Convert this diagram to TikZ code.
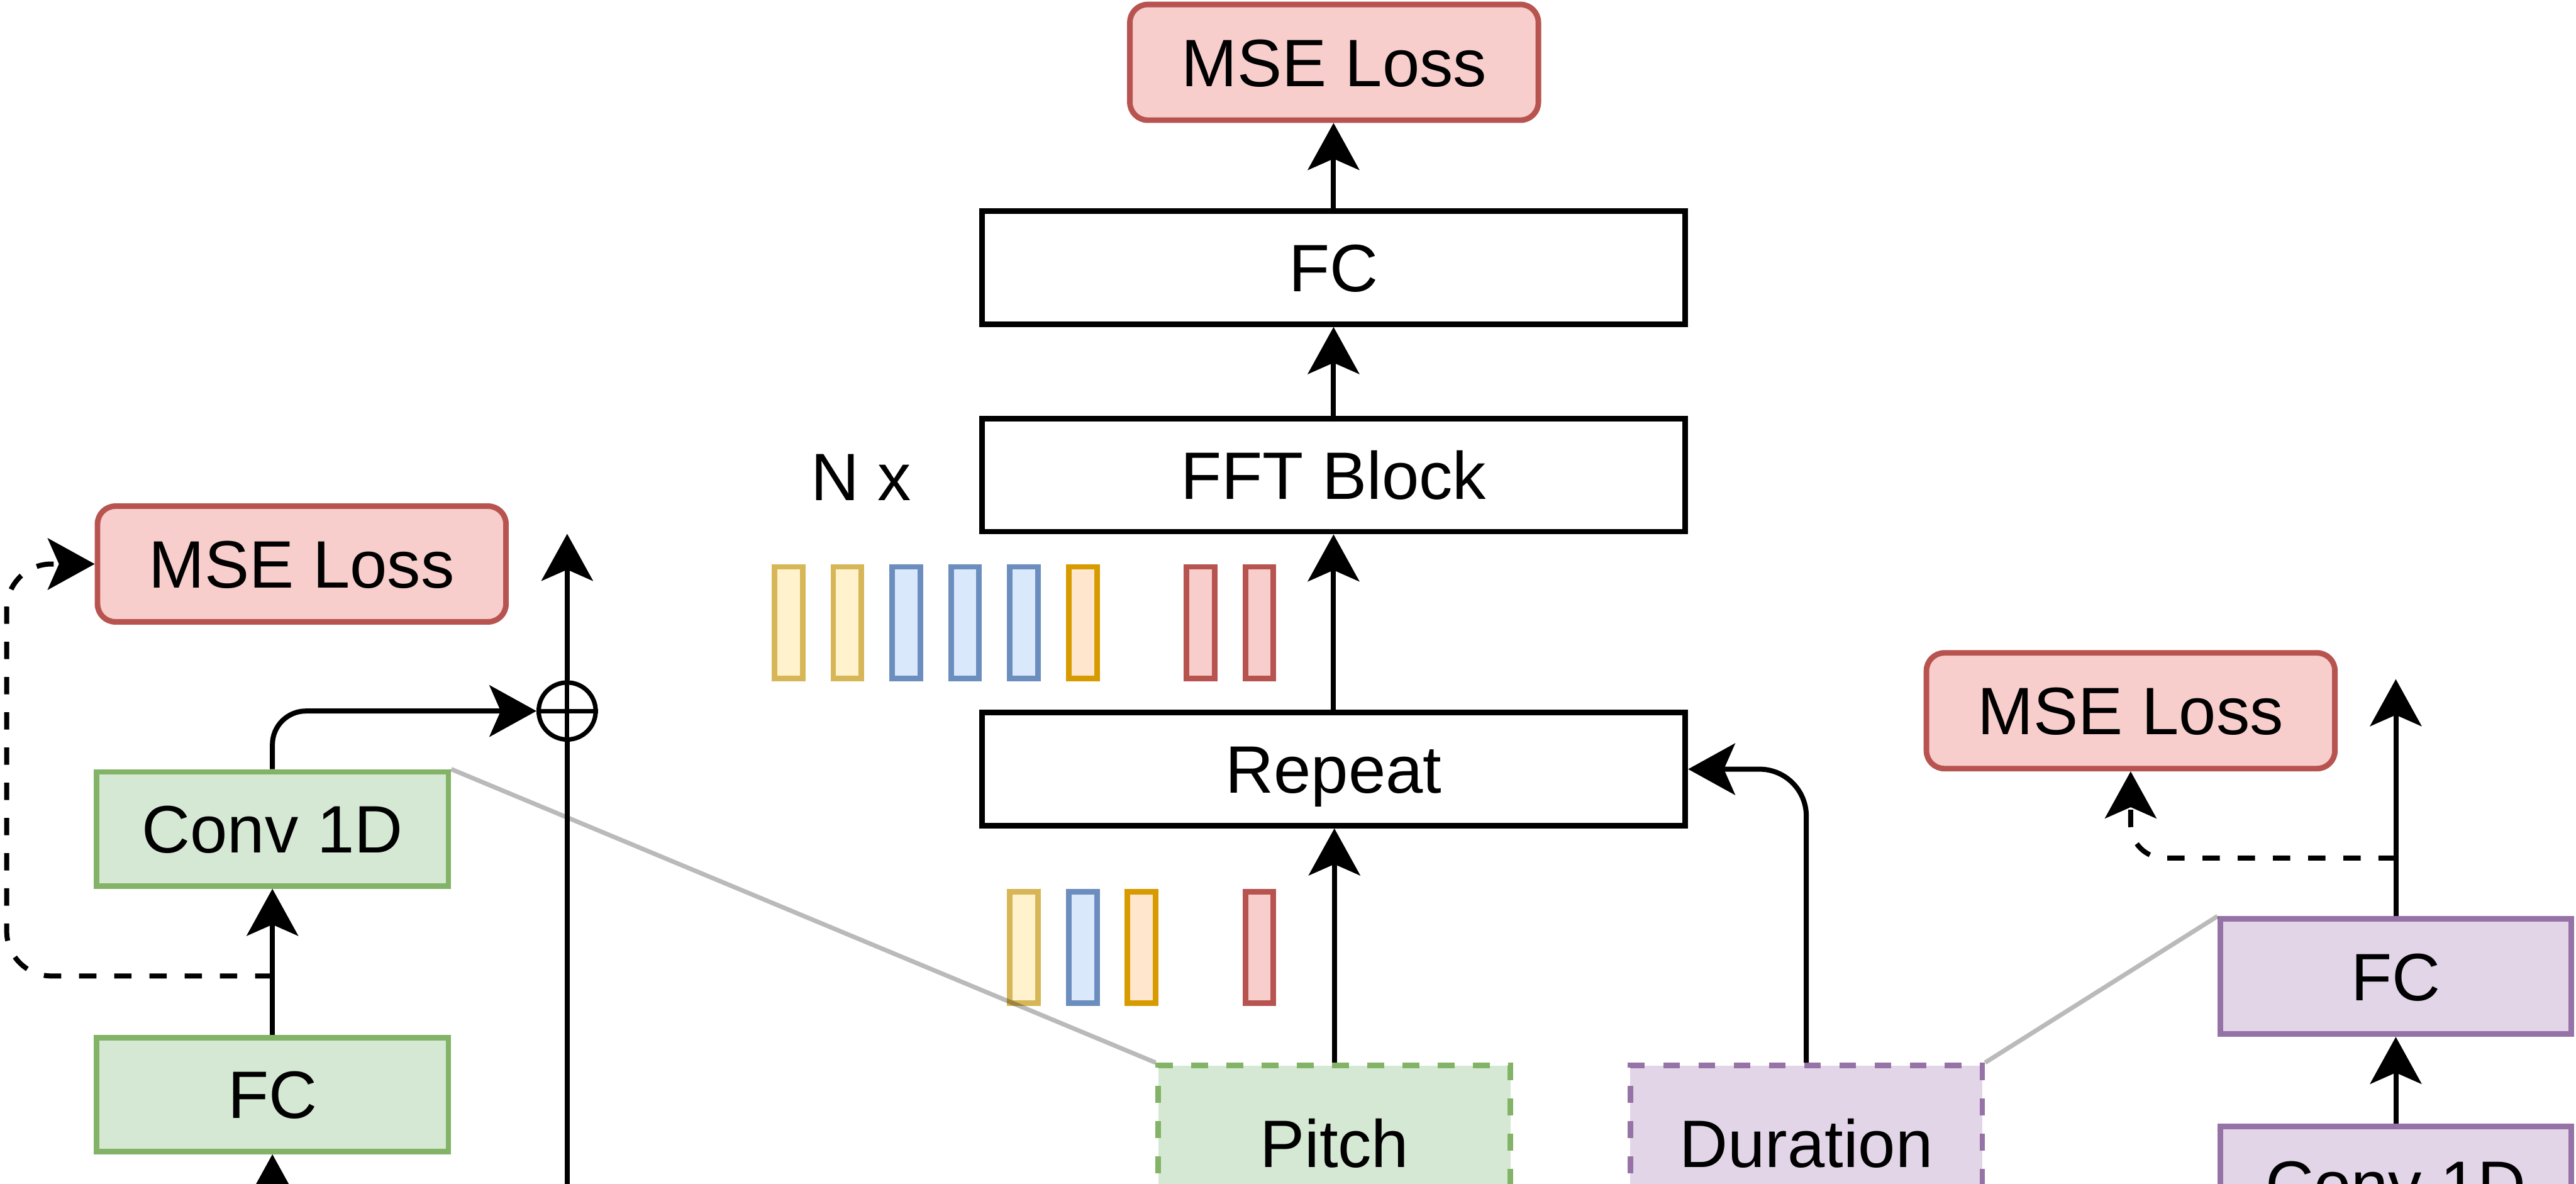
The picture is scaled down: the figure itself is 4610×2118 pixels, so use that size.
\documentclass[tikz,border=0pt]{standalone}
\usepackage{fontspec}
\setmainfont{Liberation Sans}
\usetikzlibrary{arrows.meta,calc}
\definecolor{gFill}{HTML}{D5E8D4}\definecolor{gLine}{HTML}{82B366}
\definecolor{pFill}{HTML}{E1D5E7}\definecolor{pLine}{HTML}{9673A6}
\definecolor{rFill}{HTML}{F8CECC}\definecolor{rLine}{HTML}{B85450}
\definecolor{yFill}{HTML}{FFF2CC}\definecolor{yLine}{HTML}{D6B656}
\definecolor{bFill}{HTML}{DAE8FC}\definecolor{bLine}{HTML}{6C8EBF}
\definecolor{oFill}{HTML}{FFE6CC}\definecolor{oLine}{HTML}{D79B00}
\begin{document}
\begin{tikzpicture}[x=0.25pt,y=-0.25pt,
  every node/.style={font=\fontsize{30pt}{36pt}\selectfont, inner sep=0pt, text height=21.5pt, text depth=0pt},
  blk/.style={draw=black, line width=2.5pt, fill=white, rectangle, minimum width=314.75pt, minimum height=50.5pt},
  loss/.style={draw=rLine, fill=rFill, line width=2.5pt, rectangle, rounded corners=8pt, minimum width=182.75pt, minimum height=51.75pt},
  gbox/.style={draw=gLine, fill=gFill, line width=2.5pt, rectangle, minimum width=157.5pt, minimum height=51pt},
  pbox/.style={draw=pLine, fill=pFill, line width=2.5pt, rectangle, minimum width=157pt, minimum height=51.5pt},
  dashbox/.style={line width=2.5pt, rectangle, dash pattern=on 7.5pt off 8.25pt, minimum width=157.5pt, minimum height=69.5pt},
  bar/.style={rectangle, line width=2.5pt, minimum width=12.6pt, minimum height=50pt},
  ybar/.style={bar, draw=yLine, fill=yFill},
  bbar/.style={bar, draw=bLine, fill=bFill},
  obar/.style={bar, draw=oLine, fill=oFill},
  rbar/.style={bar, draw=rLine, fill=rFill},
  arr/.style={line width=2.25pt, -{Stealth[length=21pt,width=23pt,inset=5pt]}},
  dsh/.style={dash pattern=on 7.75pt off 8pt},
  link/.style={line width=2pt, draw=black, draw opacity=0.27}
]
\useasboundingbox (0,0) rectangle (4610,2118);
\clip (0,0) rectangle (4610,2118);

% centre column
\node[loss] (mseTop) at (2387.5,111.5) {MSE Loss};
\node[blk] (fcTop) at (2386.5,479) {FC};
\node[blk] (fft) at (2386.5,850) {FFT Block};
\node (nx) at (1541,852) {N x};
\node[blk] (rep) at (2386.5,1376) {Repeat};

% bars above Repeat
\node[ybar] (u1) at (1411,1114) {};
\node[ybar] (u2) at (1516.4,1114) {};
\node[bbar] (u3) at (1621.7,1114) {};
\node[bbar] (u4) at (1727,1114) {};
\node[bbar] (u5) at (1832.4,1114) {};
\node[obar] (u6) at (1937.8,1114) {};
\node[rbar] (u7) at (2148.5,1114) {};
\node[rbar] (u8) at (2253.8,1114) {};
% bars below Repeat
\node[ybar] (d1) at (1832.4,1695) {};
\node[bbar] (d2) at (1937.8,1695) {};
\node[obar] (d3) at (2043.1,1695) {};
\node[rbar] (d4) at (2253.8,1695) {};

\node[dashbox, draw=gLine, fill=gFill] (pitch) at (2388,2045) {Pitch};
\node[dashbox, draw=pLine, fill=pFill] (dur) at (3232.5,2045) {Duration};

% left detail
\node[loss] (lmse) at (540,1009) {MSE Loss};
\node[gbox] (lconv) at (487.5,1483) {Conv 1D};
\node[gbox] (lfc) at (487.5,1958) {FC};
\node[circle, draw=black, line width=2pt, minimum size=25.5pt] (plus) at (1015,1272) {};
\draw[line width=2pt] (plus.west) -- (plus.east) (plus.north) -- (plus.south);

% right detail
\node[loss] (rmse) at (3813,1271.5) {MSE Loss};
\node[pbox] (rfc) at (4287.5,1747) {FC};
\node[pbox] (rconv) at (4287.5,2118) {Conv 1D};

% coordinates for free ends
\coordinate (resIn) at (1015,2200);
\coordinate (resOut) at (1015,955);
\coordinate (lfcIn) at (487.5,2250);
\coordinate (tapL) at (487.5,1746);
\coordinate (lx) at (12,1400);
\coordinate (rOut) at (4287.5,1215);
\coordinate (tapR) at (4287.5,1535);

% connectors centre
\draw[arr] (fcTop.north) -- (fcTop.north |- mseTop.south);
\draw[arr] (fft.north) -- (fft.north |- fcTop.south);
\draw[arr] (rep.north) -- (rep.north |- fft.south);
\draw[arr] (pitch.north) -- (pitch.north |- rep.south);
\draw[arr, rounded corners=21pt] (dur.north) |- (rep.east);

% connectors left
\draw[arr] (lfcIn) -- (lfc.south);
\draw[arr] (lfc.north) -- (lconv.south);
\draw[arr, rounded corners=15pt] (lconv.north) |- (plus.west);
\draw[line width=2.25pt] (resIn) -- (plus.south);
\draw[arr] (plus.north) -- (resOut);
\draw[arr, dsh, rounded corners=20pt] (tapL) -| (lx) |- (lmse.west);

% connectors right
\draw[arr] (rconv.north) -- (rfc.south);
\draw[arr] (rfc.north) -- (rOut);
\draw[arr, dsh, rounded corners=15pt] (tapR) -| (rmse.south);

% zoom links
\draw[link] (pitch.north west) -- (lconv.north east);
\draw[link] (dur.north east) -- (rfc.north west);
\end{tikzpicture}
\end{document}
